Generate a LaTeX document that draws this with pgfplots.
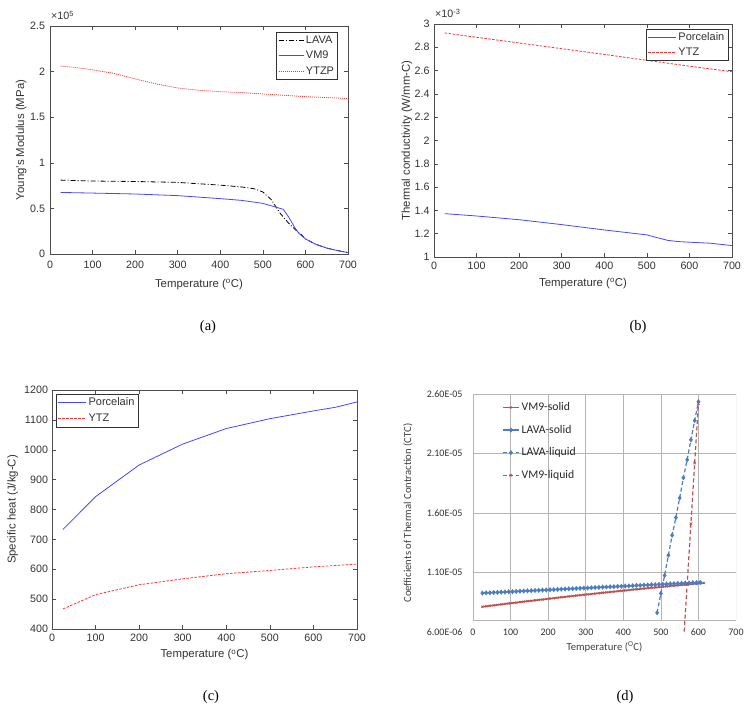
\documentclass[border=0pt]{standalone}
\usepackage{fontspec}
\setmainfont{Liberation Sans}
\newfontfamily\carlito{Carlito}
\newfontfamily\timesf{Liberation Serif}
\usepackage{pgfplots}
\pgfplotsset{compat=1.18}

\definecolor{mblue}{RGB}{70,70,255}
\definecolor{mred}{RGB}{255,50,50}
\definecolor{xblue}{RGB}{74,126,193}
\definecolor{xred}{RGB}{192,80,77}
\definecolor{xgrid}{RGB}{180,180,180}

\newcommand{\mlabfont}{\fontsize{11.4}{13}\selectfont}
\newcommand{\xlabfont}{\carlito\fontsize{10.7}{13}\selectfont}

\pgfplotsset{
  matlab/.style={
    scale only axis, xmin=0, xmax=700, xtick={0,100,...,700}, clip=false,
    tick align=inside, major tick length=4pt,
    axis line style={black!70, line width=0.6pt},
    tick style={black!70, line width=0.5pt},
    every tick label/.append style={font=\fontsize{10.7}{12}\selectfont, text=black!80},
    /pgf/number format/assume math mode=true,
    /pgf/number format/1000 sep={},
    scaled ticks=false,
    legend style={font=\fontsize{11}{13}\selectfont, draw=black!80, line width=0.6pt,
      inner sep=1.5pt, row sep=2.5pt, cells={anchor=west}, text=black!80},
    legend image code/.code={\draw[##1] (0pt,0pt) -- (25pt,0pt);},
  }
}

\begin{document}
\begin{tikzpicture}
\useasboundingbox (0,0) rectangle (751pt,714pt);

% ---------------- (a)
\begin{axis}[matlab, at={(50pt,460pt)}, anchor=south west, width=298pt, height=228pt,
  ymin=0, ymax=2.5, ytick={0,0.5,...,2.5},
  xticklabel style={yshift=-4pt},
  yticklabel style={xshift=-1.5pt},
  xlabel={Temperature (\textsuperscript{o}C)},
  ylabel={Young's Modulus (MPa)},
  every axis x label/.style={at={(axis description cs:0.5,-0.136)}, anchor=center, font=\mlabfont, text=black!80},
  every axis y label/.style={at={(axis description cs:-0.097,0.5)}, rotate=90, anchor=center, font=\mlabfont, text=black!80},
  legend style={at={(0.966,0.974)}, anchor=north east},
]
\addplot[black, line width=0.8pt, dash pattern=on 5pt off 2pt on 1pt off 2pt] coordinates {
(25,0.81) (100,0.80) (200,0.795) (300,0.785) (350,0.77) (400,0.755) (450,0.735)
(480,0.715) (500,0.68) (520,0.595) (540,0.45) (560,0.34) (580,0.25) (590,0.215)
(600,0.165) (625,0.105) (650,0.065) (675,0.038) (700,0.015)};
\addlegendentry{LAVA}
\addplot[mblue, line width=0.8pt] coordinates {
(25,0.675) (100,0.668) (200,0.658) (300,0.64) (400,0.607) (450,0.588) (500,0.555)
(548,0.49) (560,0.41) (575,0.29) (585,0.225) (600,0.165) (625,0.105) (650,0.065)
(675,0.038) (700,0.015)};
\addlegendentry{VM9}
\addplot[mred, line width=0.8pt, dash pattern=on 1pt off 1pt] coordinates {
(25,2.06) (50,2.05) (100,2.02) (150,1.98) (200,1.92) (250,1.865) (300,1.82)
(350,1.795) (400,1.78) (450,1.77) (500,1.755) (550,1.74) (600,1.725) (650,1.715) (700,1.705)};
\addlegendentry{YTZP}
\node[anchor=base west, inner sep=0pt, font=\fontsize{10.7}{12}\selectfont, text=black!80]
  at ([xshift=1pt,yshift=6pt]rel axis cs:0,1) {×10\textsuperscript{5}};
\end{axis}

% ---------------- (b)
\begin{axis}[matlab, at={(434pt,457pt)}, anchor=south west, width=298pt, height=233pt,
  ymin=1, ymax=3, ytick={1,1.2,...,3.01},
  xticklabel style={yshift=-1.5pt},
  yticklabel style={xshift=-1pt},
  xlabel={Temperature (\textsuperscript{o}C)},
  ylabel={Thermal conductivity (W/mm-C)},
  every axis x label/.style={at={(axis description cs:0.5,-0.112)}, anchor=center, font=\mlabfont, text=black!80},
  every axis y label/.style={at={(axis description cs:-0.091,0.5)}, rotate=90, anchor=center, font=\mlabfont, text=black!80},
  legend style={at={(0.987,0.979)}, anchor=north east, row sep=1.5pt},
  legend image code/.code={\draw[#1] (0pt,0pt) -- (28pt,0pt);},
]
\addplot[mblue, line width=0.8pt] coordinates {
(25,1.372) (100,1.352) (200,1.320) (300,1.278) (400,1.232) (500,1.19) (525,1.165)
(550,1.142) (575,1.132) (600,1.127) (650,1.118) (700,1.098)};
\addlegendentry{Porcelain}
\addplot[mred, line width=0.8pt, dash pattern=on 2.5pt off 1.5pt] coordinates {
(25,2.923) (100,2.886) (200,2.837) (300,2.788) (400,2.739) (500,2.688) (600,2.638) (700,2.59)};
\addlegendentry{YTZ}
\node[anchor=base west, inner sep=0pt, font=\fontsize{10.7}{12}\selectfont, text=black!80]
  at ([xshift=1pt,yshift=6pt]rel axis cs:0,1) {×10\textsuperscript{-3}};
\end{axis}

% ---------------- (c)
\begin{axis}[matlab, at={(52pt,85pt)}, anchor=south west, width=305pt, height=239pt,
  ymin=400, ymax=1200, ytick={400,500,...,1200},
  xticklabel style={yshift=-1.5pt},
  yticklabel style={xshift=-0.5pt},
  xlabel={Temperature (\textsuperscript{o}C)},
  ylabel={Specific heat (J/kg-C)},
  every axis x label/.style={at={(axis description cs:0.5,-0.109)}, anchor=center, font=\mlabfont, text=black!80},
  every axis y label/.style={at={(axis description cs:-0.129,0.5)}, rotate=90, anchor=center, font=\mlabfont, text=black!80},
  legend style={at={(0.013,0.983)}, anchor=north west, row sep=3pt},
  legend image code/.code={\draw[#1] (0pt,0pt) -- (28pt,0pt);},
]
\addplot[mblue, line width=0.8pt] coordinates {
(25,733) (100,843) (200,949) (300,1019) (400,1071) (500,1104) (600,1130) (650,1142) (700,1160)};
\addlegendentry{Porcelain}
\addplot[mred, line width=0.8pt, dash pattern=on 2.5pt off 1.5pt] coordinates {
(25,467) (100,515) (200,548) (300,568) (400,585) (500,596) (600,608) (700,617)};
\addlegendentry{YTZ}
\end{axis}

% ---------------- (d)
\begin{axis}[scale only axis, at={(473pt,82pt)}, anchor=south west, width=263pt, height=238pt,
  xmin=0, xmax=700, ymin=6, ymax=26,
  xtick={0,100,...,700},
  ytick={11,16,21,26}, yticklabels={1.10E-05,1.60E-05,2.10E-05,2.60E-05},
  extra y ticks={6}, extra y tick labels={6.00E-06}, extra y tick style={grid=none},
  ymajorgrids, major grid style={xgrid, line width=0.6pt},
  axis line style={draw=none}, tick style={draw=none},
  /pgf/number format/assume math mode=true,
  /pgf/number format/1000 sep={},
  scaled ticks=false,
  every tick label/.append style={font=\carlito\fontsize{10}{11}\selectfont, text=black!80},
  xticklabel style={anchor=center},
  yticklabel style={anchor=east, xshift=-7pt},
  xlabel={Temperature (\textsuperscript{O}C)},
  ylabel={Coefficients of Thermal Contraction (CTC)},
  every axis x label/.style={at={(axis description cs:0.5,-0.063)}, anchor=center, font=\xlabfont, text=black!75},
  every axis y label/.style={at={(axis description cs:-0.247,0.5)}, rotate=90, anchor=center, font=\xlabfont, text=black!75},
  legend style={at={(0.11,0.973)}, anchor=north west, draw=none, fill=none,
    font=\carlito\fontsize{11.7}{13}\selectfont, row sep=9pt, inner sep=0pt,
    cells={anchor=west}, text=black!85},
  legend image code/.code={\draw[#1, mark repeat=2, mark phase=2] plot coordinates {(0pt,0pt) (8pt,0pt) (16pt,0pt)};},
]
\pgfplotsinvokeforeach{0,100,200,300,400,500,600,700}{
  \draw[xgrid, line width=0.6pt] (axis cs:#1,7.01) -- (axis cs:#1,26);
}
\draw[xgrid, line width=0.6pt] (axis cs:0,7.01) -- (axis cs:700,7.01);

\addplot[xred, line width=1.5pt, mark=x, mark size=1.6pt, mark options={line width=0.6pt, solid}] coordinates {
(25,8.12) (35,8.16) (45,8.20) (55,8.24) (65,8.28) (75,8.32) (85,8.36) (95,8.40) (105,8.43)
(115,8.47) (125,8.51) (135,8.55) (145,8.59) (155,8.62) (165,8.66) (175,8.70) (185,8.73)
(195,8.77) (205,8.81) (215,8.84) (225,8.88) (235,8.92) (245,8.95) (255,8.99) (265,9.02)
(275,9.06) (285,9.09) (295,9.13) (305,9.16) (315,9.19) (325,9.23) (335,9.26) (345,9.30)
(355,9.33) (365,9.36) (375,9.39) (385,9.43) (395,9.46) (405,9.49) (415,9.52) (425,9.56)
(435,9.59) (445,9.62) (455,9.65) (465,9.68) (475,9.71) (485,9.74) (495,9.77) (505,9.80)
(515,9.83) (525,9.86) (535,9.89) (545,9.92) (555,9.95) (565,9.98) (575,10.01) (585,10.04)
(595,10.07) (605,10.10) (615,10.12)};
\addlegendentry{VM9-solid}
\addplot[xblue, line width=1.5pt, mark=diamond*, mark size=1.4pt, mark options={solid}] coordinates {
(25,9.27) (35,9.29) (45,9.30) (55,9.32) (65,9.33) (75,9.35) (85,9.36) (95,9.38) (105,9.39)
(115,9.41) (125,9.43) (135,9.44) (145,9.46) (155,9.47) (165,9.49) (175,9.50) (185,9.52)
(195,9.53) (205,9.55) (215,9.56) (225,9.58) (235,9.60) (245,9.61) (255,9.63) (265,9.64)
(275,9.66) (285,9.67) (295,9.69) (305,9.70) (315,9.72) (325,9.74) (335,9.75) (345,9.77)
(355,9.78) (365,9.80) (375,9.81) (385,9.83) (395,9.84) (405,9.86) (415,9.87) (425,9.89)
(435,9.91) (445,9.92) (455,9.94) (465,9.95) (475,9.97) (485,9.98) (495,10.00) (505,10.01)
(515,10.03) (525,10.05) (535,10.06) (545,10.08) (555,10.09) (565,10.11) (575,10.12)
(585,10.14) (595,10.15) (605,10.17)};
\addlegendentry{LAVA-solid}
\addplot[xblue, line width=1.2pt, dash pattern=on 4pt off 2.5pt, mark=diamond*, mark size=1.6pt, mark options={solid}] coordinates {
(490,7.62) (500,9.24) (510,10.75) (520,12.45) (530,14.13) (540,15.61) (550,17.26)
(560,18.96) (570,20.47) (580,22.15) (590,23.77) (600,25.36)};
\addlegendentry{LAVA-liquid}
\addplot[xred, line width=1.2pt, dash pattern=on 4pt off 2.5pt, mark=x, mark size=1.8pt, mark options={solid, line width=0.7pt}] coordinates {
(560,4.95) (570,10.0) (580,15.1) (590,20.2) (600,25.2)};
\addlegendentry{VM9-liquid}
\end{axis}

% captions
\node[font=\timesf\fontsize{14.5}{16}\selectfont] at (208pt,387pt) {(a)};
\node[font=\timesf\fontsize{14.5}{16}\selectfont] at (638pt,387pt) {(b)};
\node[font=\timesf\fontsize{14.5}{16}\selectfont] at (211pt,17pt) {(c)};
\node[font=\timesf\fontsize{14.5}{16}\selectfont] at (625pt,17pt) {(d)};
\end{tikzpicture}
\end{document}
